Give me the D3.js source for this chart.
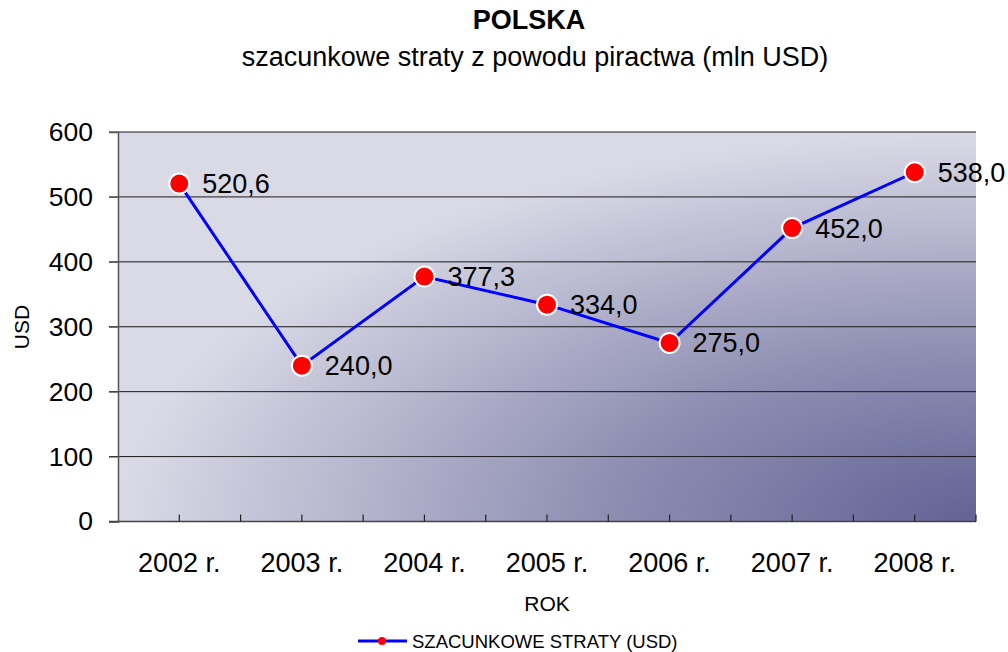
<!DOCTYPE html>
<html>
<head>
<meta charset="utf-8">
<script src="https://cdn.jsdelivr.net/npm/d3@7"></script>
<style>
  body { margin: 0; background: #fff; }
  svg { font-family: "Liberation Sans", Arial, sans-serif; display: block; }
</style>
</head>
<body>
<svg id="wykres" width="1008" height="652"></svg>
<script>
// dane
const lata = ["2002 r.", "2003 r.", "2004 r.", "2005 r.", "2006 r.", "2007 r.", "2008 r."];
const straty = [520.6, 240.0, 377.3, 334.0, 275.0, 452.0, 538.0];
const yTicks = [0, 100, 200, 300, 400, 500, 600];
const tytul = "POLSKA";
const podtytul = "szacunkowe straty z powodu piractwa (mln USD)";
const nazwaSerii = "SZACUNKOWE STRATY (USD)";

const svg = d3.select("#wykres");
const pLewo = 118, pPrawo = 976, pGora = 132, pDol = 521.5;

// gradient tła
const defs = svg.append("defs");
const grad = defs.append("radialGradient")
    .attr("id", "tlo")
    .attr("cx", 1).attr("cy", 1).attr("r", 1)
    .attr("fx", 1).attr("fy", 1);
grad.append("stop").attr("offset", "0%").attr("stop-color", "#626296");
grad.append("stop").attr("offset", "45%").attr("stop-color", "#9090b4");
grad.append("stop").attr("offset", "100%").attr("stop-color", "#dadae7");

const x = d3.scaleBand().domain(lata).range([pLewo, pPrawo]);
const y = d3.scaleLinear().domain([0, 600]).range([pDol, pGora]);

svg.append("rect")
    .attr("x", pLewo).attr("y", pGora)
    .attr("width", pPrawo - pLewo).attr("height", pDol - pGora)
    .attr("fill", "url(#tlo)");

// linie siatki
svg.append("g")
    .selectAll("line")
    .data(yTicks.filter(d => d > 0))
    .join("line")
    .attr("x1", pLewo - 9).attr("x2", pPrawo)
    .attr("y1", d => y(d)).attr("y2", d => y(d))
    .attr("stroke", "#1a1a1a").attr("stroke-width", 1);

// oś Y
const osY = svg.append("g")
    .attr("transform", `translate(${pLewo},0)`)
    .call(d3.axisLeft(y).tickValues(yTicks).tickSize(9).tickPadding(16).tickFormat(d3.format("d")));
osY.select(".domain").attr("stroke", "#555").attr("stroke-width", 1.5);
osY.selectAll(".tick line").attr("stroke", "#555");
osY.selectAll("text").attr("font-size", 26.5).attr("fill", "#000")
    .attr("font-family", "Liberation Sans, Arial, sans-serif");

// oś X
svg.append("line")
    .attr("x1", pLewo - 9).attr("x2", pPrawo)
    .attr("y1", pDol).attr("y2", pDol)
    .attr("stroke", "#444").attr("stroke-width", 1.5);

const tickPos = [];
lata.forEach(d => {
    tickPos.push(x(d) + x.bandwidth() / 2);
    tickPos.push(x(d) + x.bandwidth());
});
svg.append("g")
    .selectAll("line")
    .data(tickPos)
    .join("line")
    .attr("x1", d => d).attr("x2", d => d)
    .attr("y1", pDol).attr("y2", pDol - 7)
    .attr("stroke", "#222").attr("stroke-width", 1.2);

svg.append("g")
    .selectAll("text")
    .data(lata)
    .join("text")
    .attr("x", d => x(d) + x.bandwidth() / 2)
    .attr("y", 572)
    .attr("text-anchor", "middle")
    .attr("font-size", 27)
    .text(d => d);

// linia serii
const linia = d3.line()
    .x((d, i) => x(lata[i]) + x.bandwidth() / 2)
    .y(d => y(d));

svg.append("path")
    .datum(straty)
    .attr("d", linia)
    .attr("fill", "none")
    .attr("stroke", "#0000ff")
    .attr("stroke-width", 3);

svg.append("g")
    .selectAll("circle")
    .data(straty)
    .join("circle")
    .attr("cx", (d, i) => x(lata[i]) + x.bandwidth() / 2)
    .attr("cy", d => y(d))
    .attr("r", 10)
    .attr("fill", "#ff0000")
    .attr("stroke", "#fff")
    .attr("stroke-width", 2);

// etykiety wartości
const fmt = d => d.toFixed(1).replace(".", ",");
svg.append("g")
    .selectAll("text")
    .data(straty)
    .join("text")
    .attr("x", (d, i) => x(lata[i]) + x.bandwidth() / 2 + 23)
    .attr("y", d => y(d) + 9.5)
    .attr("font-size", 27)
    .text(fmt);

// tytuły
svg.append("text")
    .attr("x", 529).attr("y", 29)
    .attr("text-anchor", "middle")
    .attr("font-size", 27).attr("font-weight", "bold")
    .text(tytul);
svg.append("text")
    .attr("x", 535).attr("y", 66)
    .attr("text-anchor", "middle")
    .attr("font-size", 27)
    .text(podtytul);

svg.append("text")
    .attr("transform", "translate(29,327) rotate(-90)")
    .attr("text-anchor", "middle")
    .attr("font-size", 21)
    .text("USD");
svg.append("text")
    .attr("x", 547).attr("y", 611)
    .attr("text-anchor", "middle")
    .attr("font-size", 21)
    .text("ROK");

// legenda
const leg = svg.append("g");
leg.append("line")
    .attr("x1", 358).attr("x2", 407).attr("y1", 641).attr("y2", 641)
    .attr("stroke", "#0000ff").attr("stroke-width", 3);
leg.append("circle")
    .attr("cx", 382).attr("cy", 641).attr("r", 4)
    .attr("fill", "#ff0000");
leg.append("text")
    .attr("x", 412).attr("y", 648)
    .attr("font-size", 18.5)
    .text(nazwaSerii);
</script>
</body>
</html>
